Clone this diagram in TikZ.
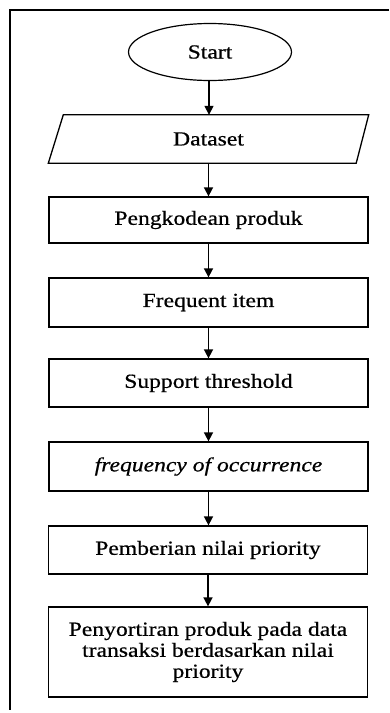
\documentclass[tikz,border=0pt]{standalone}
\usepackage{fontspec}
\setmainfont{Liberation Serif}[FakeStretch=1.18,FakeBold=0.6]
\usetikzlibrary{shapes.geometric,arrows.meta}
\begin{document}
\begin{tikzpicture}[x=1pt,y=-1pt,
  every node/.style={font=\fontsize{20}{21}\selectfont, align=center, inner sep=0pt},
  procbox/.style={draw, line width=1.3pt, minimum width=319pt},
  arr/.style={line width=1.6pt, -{Triangle[length=9pt,width=9pt]}},
  frameline/.style={line width=1.5pt}]
\useasboundingbox (0,0) rectangle (389,713);
\fill[white] (0,0) rectangle (389,713);
\coordinate (ftop) at (389,10);
\coordinate (fcorner) at (10,10);
\coordinate (fbottom) at (10,710);
\draw[frameline] (ftop) -- (fcorner) -- (fbottom);
\node[draw, ellipse, line width=1.2pt, minimum width=163pt, minimum height=57pt] (start) at (210,52) {Start};
\node[minimum width=305pt, minimum height=48pt] (dataset) at (208.5,139) {Dataset};
\draw[line width=1.3pt] ([xshift=7.5pt]dataset.north west) -- ([xshift=7.5pt]dataset.north east)
  -- ([xshift=-5pt]dataset.south east) -- ([xshift=-7.5pt]dataset.south west) -- cycle;
\node[procbox, minimum height=46pt] (b1) at (208.5,220) {Pengkodean produk};
\node[procbox, minimum height=49pt] (b2) at (208.5,302.5) {Frequent item};
\node[procbox, minimum height=48pt] (b3) at (208.5,383) {Support threshold};
\node[procbox, minimum height=49pt] (b4) at (208.5,466.5) {\itshape frequency of occurrence};
\node[procbox, minimum height=48pt] (b5) at (208,550) {Pemberian nilai priority};
\node[procbox, minimum height=90pt] (b6) at (208,652) {Penyortiran produk pada data\\transaksi berdasarkan nilai\\priority};
\draw[arr] ([xshift=-1pt]start.south) -- ([xshift=-1pt]start.south |- dataset.north);
\draw[arr] (dataset.south) -- (dataset.south |- b1.north);
\draw[arr] (b1.south) -- (b1.south |- b2.north);
\draw[arr] (b2.south) -- (b2.south |- b3.north);
\draw[arr] (b3.south) -- (b3.south |- b4.north);
\draw[arr] (b4.south) -- (b4.south |- b5.north);
\draw[arr] (b5.south) -- (b5.south |- b6.north);
\end{tikzpicture}
\end{document}
